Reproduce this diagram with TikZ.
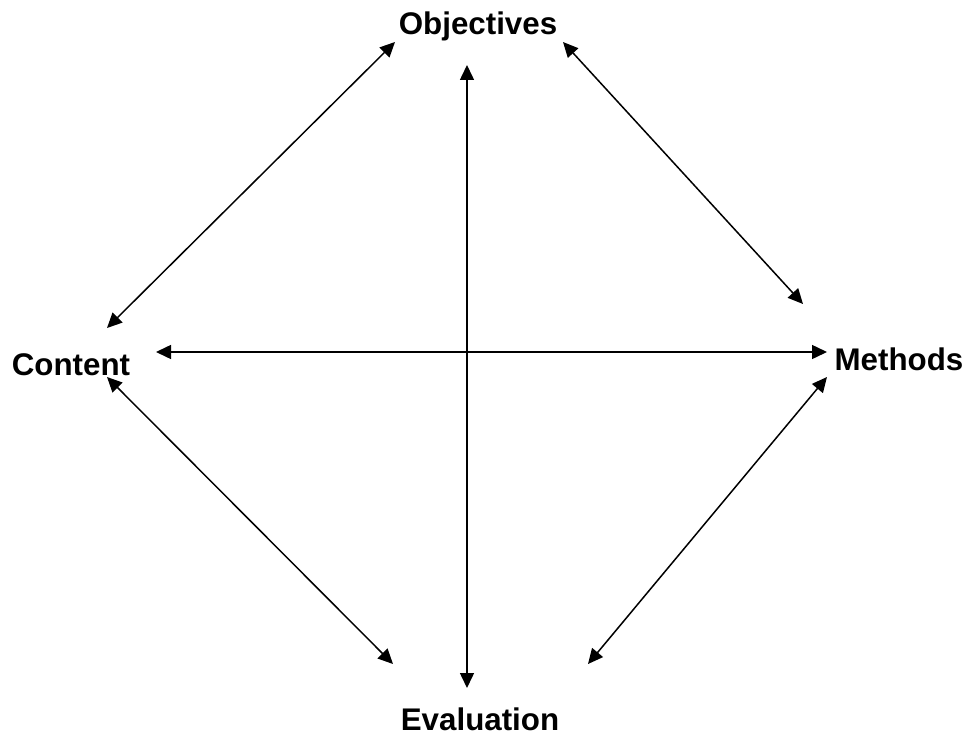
\documentclass[tikz,border=0pt]{standalone}
\usepackage{fontspec}
\setmainfont{Liberation Sans}
\usepackage{tikz}
\usetikzlibrary{arrows.meta}
\usetikzlibrary{positioning}
\tikzstyle{lbl}=[font=\fontsize{31.3}{36}\selectfont\bfseries, inner sep=0pt, anchor=base]
\tikzstyle{link}=[{Triangle[length=15pt,width=14pt]}-{Triangle[length=15pt,width=14pt]}, line width=1.5pt]

\begin{document}
\begin{tikzpicture}[x=1pt,y=-1pt]
    \useasboundingbox (0,0) rectangle (969,733);
    \node [lbl] (O) at (478,35)  {Objectives};
    \node [lbl] (C) at (71,375)  {Content};
    \node [lbl] (M) at (899,370) {Methods};
    \node [lbl] (E) at (480,730) {Evaluation};

    % arrow ends
    \coordinate (OC) at (395,42);
    \coordinate (OM) at (563,42);
    \coordinate (OE) at (467,65);
    \coordinate (CO) at (107,328);
    \coordinate (CM) at (156,352);
    \coordinate (CE) at (107,377);
    \coordinate (MO) at (803,304);
    \coordinate (MC) at (827,352);
    \coordinate (ME) at (827,377);
    \coordinate (EC) at (393,664);
    \coordinate (EO) at (467,688);
    \coordinate (EM) at (588,664);

    \path [link] (OC) edge (CO)
                 (OM) edge (MO)
                 (OE) edge (EO)
                 (CM) edge (MC)
                 (CE) edge (EC)
                 (ME) edge (EM);
\end{tikzpicture}
\end{document}
